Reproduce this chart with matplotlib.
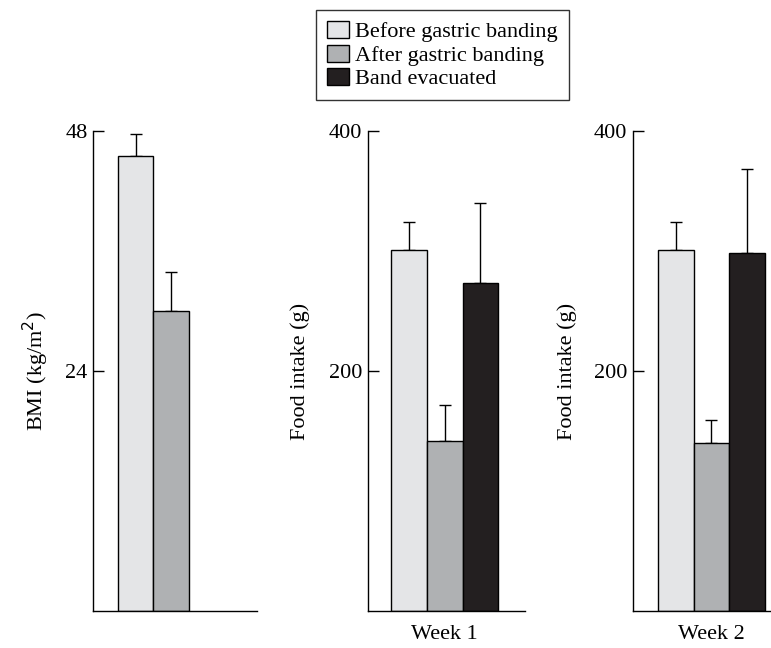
import matplotlib.pyplot as plt
from matplotlib.patches import Patch

# values
groups = ["Before gastric banding", "After gastric banding", "Band evacuated"]
colors = ["#e4e5e7", "#afb1b3", "#231f20"]

bmi_mean = [45.5, 30.0]
bmi_sem = [2.2, 3.9]

week1_mean = [301, 142, 273]
week1_sem = [23, 30, 67]

week2_mean = [301, 140, 298]
week2_sem = [23, 19, 70]

plt.rcParams["font.family"] = ["Liberation Serif", "DejaVu Serif"]
plt.rcParams["font.size"] = 16

W, H = 771, 648
fig = plt.figure(figsize=(W / 100, H / 100), dpi=100)

y_top, y_bot = 131, 611


def make_axes(x0, x1):
    return fig.add_axes([x0 / W, (H - y_bot) / H, (x1 - x0) / W, (y_bot - y_top) / H])


def draw_panel(ax, means, sems, ymax, yticks, ylabel, xlab, xlim, label_px):
    n = len(means)
    xs = list(range(n))
    ax.bar(xs, means, width=1.0, color=colors[:n], edgecolor="black", linewidth=1.0, zorder=2)
    ax.errorbar(xs, means, yerr=[[0] * n, sems], fmt="none", ecolor="black",
                elinewidth=1.0, capsize=4.5, capthick=1.0, zorder=1)
    ax.set_xlim(*xlim)
    ax.set_ylim(0, ymax)
    ax.set_yticks(yticks)
    ax.tick_params(axis="y", direction="in", length=8, width=1.0, pad=4)
    if xlab:
        ax.set_xticks([(n - 1) / 2])
        ax.set_xticklabels([xlab])
        ax.tick_params(axis="x", length=0, pad=10)
    else:
        ax.set_xticks([])
    for s in ["top", "right"]:
        ax.spines[s].set_visible(False)
    for s in ["left", "bottom"]:
        ax.spines[s].set_linewidth(1.0)
    ax.set_ylabel(ylabel)
    ax.yaxis.set_label_coords(label_px, 0.5)
    ax.patch.set_alpha(0)


ax1 = make_axes(93, 257)
draw_panel(ax1, bmi_mean, bmi_sem, 48, [24, 48], "BMI (kg/m$^2$)", None,
           (-1.2, 3.42), (51 - 93) / 164)

ax2 = make_axes(368, 525)
draw_panel(ax2, week1_mean, week1_sem, 400, [200, 400], "Food intake (g)", "Week 1",
           (-1.15, 3.25), (310 - 368) / 157)

ax3 = make_axes(633, 790)
draw_panel(ax3, week2_mean, week2_sem, 400, [200, 400], "Food intake (g)", "Week 2",
           (-1.2, 3.2), (577 - 633) / 157)

handles = [Patch(facecolor=c, edgecolor="black", linewidth=1.0) for c in colors]
fig.legend(handles, groups, loc="upper center", bbox_to_anchor=(442.5 / W, 1 - 10 / H),
           frameon=True, fancybox=False, edgecolor="black", handlelength=1.0,
           handleheight=0.8, handletextpad=0.27, borderpad=0.5, labelspacing=0.1,
           borderaxespad=0)

fig.savefig("out.png", dpi=100)
